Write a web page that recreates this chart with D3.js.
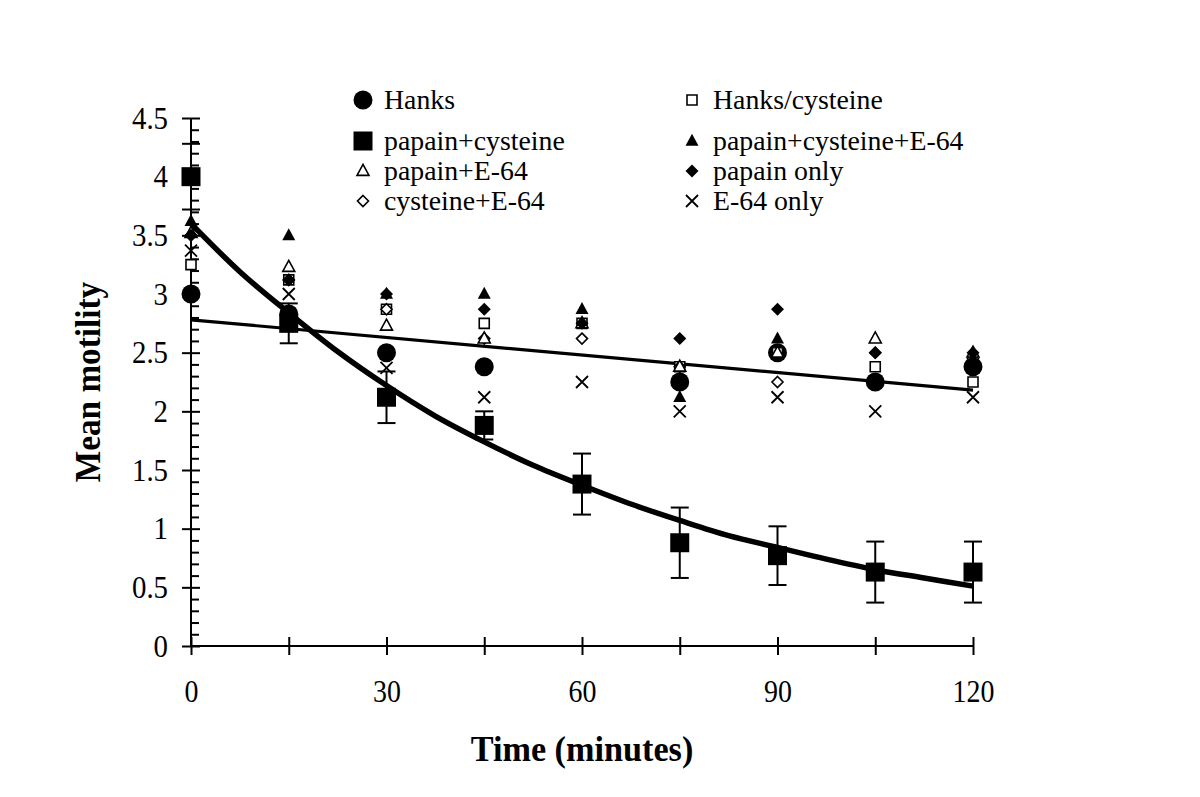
<!DOCTYPE html>
<html>
<head>
<meta charset="utf-8">
<script src="https://cdn.jsdelivr.net/npm/d3@7/dist/d3.min.js"></script>
<style>
  html, body { margin: 0; padding: 0; background: #fff; }
  svg { display: block; }
  text { font-family: "Liberation Serif", "Times New Roman", serif; fill: #000; }
</style>
</head>
<body>
<svg id="chart" width="1200" height="797"></svg>
<script>
// ---------------- data ----------------
const times = [0, 15, 30, 45, 60, 75, 90, 105, 120];
const hanks        = [3.00, 2.83, 2.50, 2.38, null, 2.25, 2.50, 2.25, 2.38];
const hanksCys     = [3.25, 3.12, 2.87, 2.75, 2.75, 2.38, 2.50, 2.38, 2.25];
const papCys       = [4.00, 2.75, 2.12, 1.88, 1.38, 0.88, 0.77, 0.63, 0.63];
const papCysErr    = [0.28, 0.17, 0.22, 0.12, 0.26, 0.30, 0.25, 0.26, 0.26];
const papCysE64    = [3.62, 3.50, 3.00, 3.00, 2.87, 2.12, 2.62, 2.25, 2.45];
const papE64       = [3.52, 3.23, 2.73, 2.62, 2.75, 2.38, 2.50, 2.62, 2.50];
const papOnly      = [3.50, 3.12, 3.00, 2.87, 2.75, 2.62, 2.87, 2.50, 2.50];
const cysE64       = [3.50, 3.12, 2.87, 2.62, 2.62, 2.38, 2.25, 2.50, 2.45];
const e64Only      = [3.37, 3.00, 2.37, 2.12, 2.25, 2.00, 2.12, 2.00, 2.12];

// exponential trend through papain+cysteine
const trendTimes  = [0, 7.5, 15, 22.5, 30, 37.5, 45, 52.5, 60, 67.5, 75, 82.5, 90, 97.5, 105, 112.5, 120];
const trendValues = [3.60, 3.19, 2.84, 2.51, 2.22, 1.96, 1.74, 1.54, 1.37, 1.21, 1.07, 0.94, 0.84, 0.74, 0.65, 0.58, 0.51];
// linear trend through the other groups
const lineTimes  = [0, 120];
const lineValues = [2.78, 2.18];

const yTicks = [0, 0.5, 1, 1.5, 2, 2.5, 3, 3.5, 4, 4.5];
const yTickLabels = ["0", "0.5", "1", "1.5", "2", "2.5", "3", "3.5", "4", "4.5"];
const xTicks = [0, 15, 30, 45, 60, 75, 90, 105, 120];
const xTickLabels = ["0", "", "30", "", "60", "", "90", "", "120"];

const legendNames = ["Hanks", "Hanks/cysteine", "papain+cysteine", "papain+cysteine+E-64",
                     "papain+E-64", "papain only", "cysteine+E-64", "E-64 only"];

// ---------------- setup ----------------
const svg = d3.select("#chart");
const x = d3.scaleLinear().domain([0, 120]).range([191, 973]);
const y = d3.scaleLinear().domain([0, 4.5]).range([646, 118]);
const SX = 0.9; // horizontal condensation of the tick text

// marker path builders
const M = {
  circle: r => `M${-r},0A${r},${r} 0 1,0 ${r},0A${r},${r} 0 1,0 ${-r},0Z`,
  square: h => `M${-h},${-h}H${h}V${h}H${-h}Z`,
  triangle: (w, h) => `M0,${-h*0.6}L${w/2},${h*0.4}L${-w/2},${h*0.4}Z`,
  diamond: h => `M0,${-h}L${h},0L0,${h}L${-h},0Z`,
  cross: h => `M${-h},${-h}L${h},${h}M${h},${-h}L${-h},${h}`
};
const styles = {
  "Hanks":                 {d: M.circle(9.5), fill: "#000", stroke: "none", sw: 0},
  "Hanks/cysteine":        {d: M.square(5), fill: "#fff", stroke: "#000", sw: 1.6},
  "papain+cysteine":       {d: M.square(9.5), fill: "#000", stroke: "none", sw: 0},
  "papain+cysteine+E-64":  {d: M.triangle(13, 12), fill: "#000", stroke: "none", sw: 0},
  "papain+E-64":           {d: M.triangle(12, 11), fill: "#fff", stroke: "#000", sw: 1.6},
  "papain only":           {d: M.diamond(6.5), fill: "#000", stroke: "none", sw: 0},
  "cysteine+E-64":         {d: M.diamond(5.5), fill: "#fff", stroke: "#000", sw: 1.6},
  "E-64 only":             {d: M.cross(6), fill: "none", stroke: "#000", sw: 1.8}
};
const seriesValues = {
  "Hanks": hanks, "Hanks/cysteine": hanksCys, "papain+cysteine": papCys,
  "papain+cysteine+E-64": papCysE64, "papain+E-64": papE64, "papain only": papOnly,
  "cysteine+E-64": cysE64, "E-64 only": e64Only
};
const drawOrder = ["Hanks", "Hanks/cysteine", "cysteine+E-64", "papain+E-64",
                   "papain+cysteine+E-64", "papain only", "E-64 only", "papain+cysteine"];

// ---------------- axes ----------------
const yAxisG = svg.append("g").attr("transform", `translate(${x(0)},0)`)
  .call(d3.axisLeft(y).tickValues(yTicks).tickSize(9).tickFormat((d, i) => yTickLabels[i]));
yAxisG.select(".domain").attr("stroke", "#000").attr("stroke-width", 2).attr("d", `M0,${y(4.5)}V${y(0)}`);
yAxisG.selectAll(".tick line").attr("x1", -9).attr("x2", 9).attr("stroke", "#000").attr("stroke-width", 2);
yAxisG.selectAll(".tick text").attr("x", -23 / SX).attr("transform", `scale(${SX},1)`)
  .attr("font-size", 32).style("font-family", '"Liberation Serif", serif');
const minor = d3.range(0, 45).map(i => i / 10).filter(v => Math.abs(v * 2 - Math.round(v * 2)) > 1e-6);
const yMinorG = svg.append("g").attr("transform", `translate(${x(0)},0)`)
  .call(d3.axisRight(y).tickValues(minor).tickSize(8).tickFormat(""));
yMinorG.select(".domain").remove();
yMinorG.selectAll(".tick line").attr("stroke", "#000").attr("stroke-width", 2);

const xAxisG = svg.append("g").attr("transform", `translate(0,${y(0)})`)
  .call(d3.axisBottom(x).tickValues(xTicks).tickSize(9).tickFormat((d, i) => xTickLabels[i]));
xAxisG.select(".domain").attr("stroke", "#000").attr("stroke-width", 2).attr("d", `M${x(0)},0H${x(120)}`);
xAxisG.selectAll(".tick line").attr("y1", -9).attr("y2", 9).attr("stroke", "#000").attr("stroke-width", 2);
xAxisG.selectAll(".tick text").attr("y", 34).attr("transform", `scale(${SX},1)`)
  .attr("font-size", 31).style("font-family", '"Liberation Serif", serif');

// axis titles
svg.append("text").attr("transform", `translate(${x(60)},761) scale(0.95,1)`).attr("text-anchor", "middle")
  .attr("font-size", 36).attr("font-weight", "bold").text("Time (minutes)");
svg.append("text").attr("transform", `translate(100,${y(2.25)}) rotate(-90) scale(0.95,1)`)
  .attr("text-anchor", "middle").attr("font-size", 35).attr("font-weight", "bold").text("Mean motility");

// ---------------- trend lines ----------------
svg.append("path")
  .datum(lineTimes.map((t, i) => [t, lineValues[i]]))
  .attr("fill", "none").attr("stroke", "#000").attr("stroke-width", 3.2)
  .attr("d", d3.line().x(d => x(d[0])).y(d => y(d[1])));

svg.append("path")
  .datum(trendTimes.map((t, i) => [t, trendValues[i]]))
  .attr("fill", "none").attr("stroke", "#000").attr("stroke-width", 5.5).attr("stroke-linejoin", "round")
  .attr("d", d3.line().curve(d3.curveMonotoneX).x(d => x(d[0])).y(d => y(d[1])));

// ---------------- error bars ----------------
const eb = svg.append("g").attr("stroke", "#000").attr("stroke-width", 2);
times.forEach((t, i) => {
  const v = papCys[i], e = papCysErr[i];
  const cx = x(t);
  eb.append("line").attr("x1", cx).attr("x2", cx).attr("y1", y(v - e)).attr("y2", y(v + e));
  eb.append("line").attr("x1", cx - 9).attr("x2", cx + 9).attr("y1", y(v - e)).attr("y2", y(v - e));
  eb.append("line").attr("x1", cx - 9).attr("x2", cx + 9).attr("y1", y(v + e)).attr("y2", y(v + e));
});

// ---------------- markers ----------------
drawOrder.forEach(name => {
  const st = styles[name];
  const pts = times.map((t, i) => [t, seriesValues[name][i]]).filter(d => d[1] != null);
  svg.append("g").selectAll("path").data(pts).join("path")
    .attr("transform", d => `translate(${x(d[0])},${y(d[1])})`)
    .attr("d", st.d).attr("fill", st.fill).attr("stroke", st.stroke).attr("stroke-width", st.sw);
});

// ---------------- legend ----------------
const legRowsY = [100, 141, 171, 201];
const legColX = [363, 692];
legendNames.forEach((name, i) => {
  const col = i % 2, row = Math.floor(i / 2);
  const st = styles[name];
  const g = svg.append("g").attr("transform", `translate(${legColX[col]},${legRowsY[row]})`);
  g.append("path").attr("d", st.d).attr("fill", st.fill).attr("stroke", st.stroke).attr("stroke-width", st.sw);
  g.append("text").attr("transform", `translate(21,0) scale(1.03,1)`).attr("dy", "0.35em")
    .attr("font-size", 27).text(name);
});
</script>
</body>
</html>
